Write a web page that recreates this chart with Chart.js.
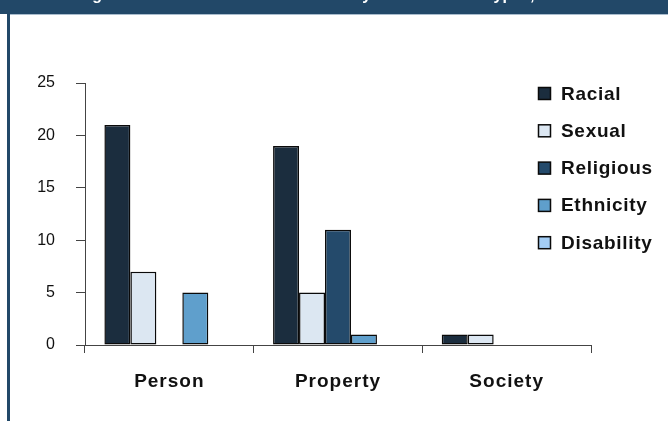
<!DOCTYPE html>
<html>
<head>
<meta charset="utf-8">
<script src="https://cdn.jsdelivr.net/npm/chart.js@4/dist/chart.umd.min.js"></script>
<style>
  html, body { margin: 0; padding: 0; background: #ffffff; }
  #page { position: relative; width: 668px; height: 421px; overflow: hidden; background: #ffffff; }
  #band { position: absolute; left: 0; top: 0; width: 668px; height: 14px; background: #224868; }
  #rule { position: absolute; left: 10px; top: 14px; width: 658px; height: 1px; background: #a9bccd; }
  #edge { position: absolute; left: 7px; top: 14px; width: 3px; height: 407px; background: #224868; }
  #chart { position: absolute; left: 0; top: 0; }
</style>
</head>
<body>
<div id="page">
  <div id="band"></div>
  <div id="rule"></div>
  <div id="edge"></div>
  <canvas id="chart" width="668" height="421"></canvas>
</div>
<script>
// Offense categories and counts per bias type
const categories = ['Person', 'Property', 'Society'];
const seriesNames = ['Racial', 'Sexual', 'Religious', 'Ethnicity', 'Disability'];
const racial     = [21, 19, 1];
const sexual     = [7, 5, 1];
const religious  = [0, 11, 0];
const ethnicity  = [5, 1, 0];
const disability = [0, 0, 0];
const yMin = 0, yMax = 25, yStep = 5;
const titleText = 'Figure 2. Total Hate Crime Offenses by Offender Bias Types, 2005';

const seriesColors = ['#1b2d3e', '#dce7f2', '#244a6b', '#5f9fcc', '#a3cdf5'];
const seriesValues = [racial, sexual, religious, ethnicity, disability];

const datasets = seriesNames.map((name, i) => ({
  label: name,
  data: seriesValues[i],
  backgroundColor: seriesColors[i],
  borderColor: '#0a0a0a',
  borderWidth: 1.5,
  borderSkipped: false,
  barPercentage: 1,
  categoryPercentage: 0.77
}));

const FONT = "'Liberation Sans', Arial, sans-serif";

// Header title (clipped by the band) and the legend drawn over the plot
const decorations = {
  id: 'decorations',
  afterLayout(chart) {
    // category labels are letter-spaced, the value labels are not
    const yScale = chart.scales.y;
    if (!yScale._plainLabels) {
      const orig = yScale.drawLabels;
      yScale.drawLabels = function (area) {
        const c = this.ctx;
        c.save();
        c.letterSpacing = '0px';
        orig.call(this, area);
        c.restore();
      };
      yScale._plainLabels = true;
    }
  },
  beforeDraw(chart) {
    chart.ctx.letterSpacing = '1px';
  },
  afterDraw(chart) {
    const ctx = chart.ctx;
    ctx.save();
    ctx.letterSpacing = '0px';
    ctx.beginPath();
    ctx.rect(0, 0, 668, 14);
    ctx.clip();
    ctx.fillStyle = '#ffffff';
    ctx.font = 'bold 16px ' + FONT;
    ctx.textBaseline = 'alphabetic';
    ctx.textAlign = 'left';
    ctx.fillText(titleText, 78, 0);
    ctx.restore();

    ctx.save();
    ctx.letterSpacing = '0.7px';
    ctx.font = 'bold 19px ' + FONT;
    ctx.textBaseline = 'alphabetic';
    ctx.textAlign = 'left';
    chart.data.datasets.forEach((ds, i) => {
      const y = 87 + i * 37.3;
      ctx.fillStyle = ds.backgroundColor;
      ctx.fillRect(538.5, y + 0.5, 12, 12);
      ctx.lineWidth = 1.5;
      ctx.strokeStyle = '#0a0a0a';
      ctx.strokeRect(538.5, y + 0.5, 12, 12);
      ctx.fillStyle = '#111111';
      ctx.fillText(ds.label, 561, y + 12.5);
    });
    ctx.restore();
  }
};

new Chart(document.getElementById('chart'), {
  type: 'bar',
  data: { labels: categories, datasets: datasets },
  options: {
    responsive: false,
    animation: false,
    devicePixelRatio: 1,
    layout: { padding: { top: 83, right: 77, bottom: 0, left: 0 } },
    plugins: {
      legend: { display: false },
      title: { display: false },
      tooltip: { enabled: false }
    },
    scales: {
      x: {
        grid: { offset: true, drawOnChartArea: false, drawTicks: true, tickLength: 8, color: '#444444', lineWidth: 1 },
        border: { display: true, color: '#444444', width: 1 },
        ticks: { color: '#111111', font: { family: FONT, size: 19, weight: 'bold' }, padding: 17 },
        afterFit(scale) { scale.height = 76; }
      },
      y: {
        min: yMin,
        max: yMax,
        grid: { drawOnChartArea: false, drawTicks: true, tickLength: 9, color: '#444444', lineWidth: 1 },
        border: { display: true, color: '#444444', width: 1 },
        ticks: { stepSize: yStep, color: '#111111', font: { family: FONT, size: 16 }, padding: 21 },
        afterFit(scale) { scale.width = 85; }
      }
    }
  },
  plugins: [decorations]
});
</script>
</body>
</html>
